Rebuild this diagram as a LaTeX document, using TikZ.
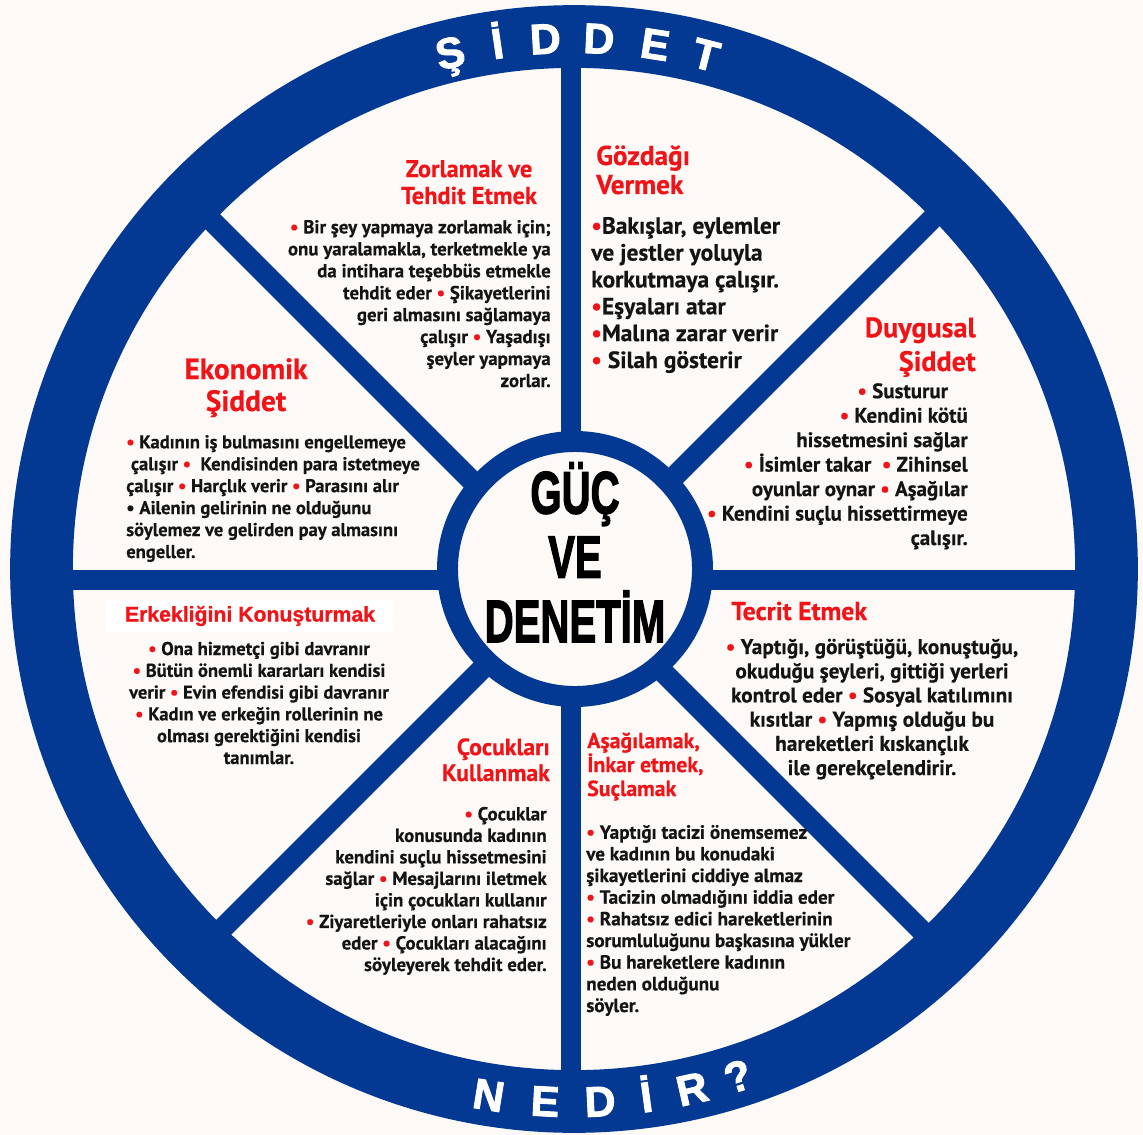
\documentclass[tikz,border=0pt]{standalone}
\usepackage{fontspec}
\usepackage{graphicx}
\setmainfont{PT Sans}[BoldFeatures={FakeBold=0.4}]
\newfontfamily\rimfont{Liberation Sans}[BoldFeatures={FakeBold=2}]
\newfontfamily\hubfont{Liberation Sans}[BoldFeatures={FakeBold=2.5}]
\newfontfamily\boxfont{Liberation Sans}[BoldFeatures={FakeBold=1}]
\usetikzlibrary{calc}
\definecolor{bg}{HTML}{FCF9F6}
\definecolor{wheel}{HTML}{033893}
\definecolor{tred}{HTML}{F01419}
\definecolor{ink}{HTML}{141414}
\newcommand{\bul}{{\color{tred}\textbullet}}
\newcommand{\sq}[1]{\scalebox{0.67}[1]{#1}}
\tikzset{
  rim/.style={draw=wheel, line width=44.6pt},
  spoke/.style={draw=wheel, line width=14.9pt},
  hubring/.style={draw=wheel, line width=14.9pt, fill=bg},
  fs/.style 2 args={font=\fontsize{#1}{#2}\selectfont\bfseries},
  body/.style={text=ink, inner sep=0pt, align=#1},
  ttl/.style={text=tred, inner sep=0pt, align=#1},
  rimtxt/.style={text=white, inner sep=0pt, anchor=base, font=\rimfont\fontsize{30.5}{32}\selectfont\bfseries},
  hubtxt/.style={text=black, inner sep=0pt, align=center, font=\hubfont\fontsize{42.6}{45.7}\selectfont\bfseries},
}

\begin{document}
\begin{tikzpicture}[x=0.025cm, y=-0.025cm]
  \coordinate (O) at (574,569);
  \coordinate (S) at (571,580);
  \coordinate (H) at (575,569);

  \fill[bg] (0,0) rectangle (1143,1135);
  \useasboundingbox (0,0) rectangle (1143,1135);

  % spokes, cut at the rim
  \begin{scope}
    \clip (O) circle (505);
    \foreach \a in {0,45,90,135}
      \draw[spoke] ($(S)+(\a:-600)$) -- ($(S)+(\a:600)$);
  \end{scope}
  \draw[rim] (O) circle (532.5);
  \draw[hubring] (H) circle (127.5);

  % rim lettering
  \foreach \ch/\a in {Ş/103.5, İ/98.3, D/93.1, D/87.3, E/81.2, T/75.6}
    \node[rimtxt, rotate=\a-90] at ({574+516*cos(\a)},{569-516*sin(\a)}) {\ch};
  \foreach \ch/\a in {N/260.8, E/266.9, D/272.8, İ/277.8, R/282.8, ?/287.9}
    \node[rimtxt, rotate=\a+90] at ({574+548*cos(\a)},{569-548*sin(\a)}) {\ch};

  \node[hubtxt, anchor=base] (hub) at (575,642) {\sq{GÜÇ}\\\sq{VE}\\\sq{DENETİM}};

  % Zorlamak ve Tehdit Etmek
  \node[ttl=center, fs={17.3}{19.1}, anchor=base] (zorT) at (469,204) {Zorlamak ve\\Tehdit Etmek};
  \node[body=right, fs={13.4}{15.6}, anchor=base east] (zorB) at (551,387)
    {\bul\ Bir şey yapmaya zorlamak için;\\onu yaralamakla, terketmekle ya\\da intihara teşebbüs etmekle\\tehdit eder \bul\ Şikayetlerini\\geri almasını sağlamaya\\çalışır \bul\ Yaşadışı\\şeyler yapmaya\\zorlar.};

  % Gözdağı Vermek
  \node[ttl=left, fs={19.4}{20.6}, anchor=base west] (gozT) at (596,194) {Gözdağı\\Vermek};
  \node[body=left, fs={16.7}{19.1}, anchor=base west] (gozB) at (591,368)
    {\bul Bakışlar, eylemler\\ve jestler yoluyla\\korkutmaya çalışır.\\\bul Eşyaları atar\\\bul Malına zarar verir\\\bul\ Silah gösterir};

  % Duygusal Şiddet
  \node[ttl=right, fs={20}{24}, anchor=base east] (duyT) at (976,371) {Duygusal\\Şiddet};
  \node[body=right, fs={14.9}{17.4}, anchor=base east] (duyB) at (968,545)
    {\bul\ Susturur\hspace*{14pt}\\\bul\ Kendini kötü\\hissetmesini sağlar\\\bul\ İsimler takar\ \ \bul\ Zihinsel\\oyunlar oynar \bul\ Aşağılar\\\bul\ Kendini suçlu hissettirmeye\\çalışır.};

  % Ekonomik Şiddet
  \node[ttl=center, fs={20.9}{22.7}, anchor=base] (ekoT) at (246,411) {Ekonomik\\Şiddet};
  \node[body=left, fs={13.2}{15.6}, anchor=base west] (ekoB) at (126,558)
    {\bul\ Kadının iş bulmasını engellemeye\\\ çalışır \bul\ \ Kendisinden para istetmeye\\çalışır \bul\ Harçlık verir \bul\ Parasını alır\\\textbullet\ Ailenin gelirinin ne olduğunu\\söylemez ve gelirden pay almasını\\engeller.};

  % Erkekliğini Konuşturmak
  \node[fill=white, text=tred, inner sep=0pt, minimum width=205.5pt, minimum height=22.7pt,
    font=\boxfont\fontsize{15.1}{18}\selectfont\bfseries] (erkT) at (250,616) {Erkekliğini Konuşturmak};
  \node[body=center, fs={13.2}{15.5}, anchor=base] (erkB) at (259,764)
    {\bul\ Ona hizmetçi gibi davranır\\\bul\ Bütün önemli kararları kendisi\\verir \bul\ Evin efendisi gibi davranır\\\bul\ Kadın ve erkeğin rollerinin ne\\olması gerektiğini kendisi\\tanımlar.};

  % Tecrit Etmek
  \node[ttl=left, fs={18.3}{19}, anchor=base west] (tecT) at (731,620) {Tecrit Etmek};
  \node[body=center, fs={15.1}{17.2}, anchor=base] (tecB) at (872,775)
    {\bul\ Yaptığı, görüştüğü, konuştuğu,\\okuduğu şeyleri, gittiği yerleri\\kontrol eder \bul\ Sosyal katılımını\\kısıtlar \bul\ Yapmış olduğu bu\\hareketleri kıskançlık\\ile gerekçelendirir.};

  % Çocukları Kullanmak
  \node[ttl=right, fs={16.8}{18.4}, anchor=base east] (cocT) at (550,781) {Çocukları\\Kullanmak};
  \node[body=right, fs={13.4}{15.3}, anchor=base east] (cocB) at (547,971)
    {\bul\ Çocuklar\\konusunda kadının\\kendini suçlu hissetmesini\\sağlar \bul\ Mesajlarını iletmek\\için çocukları kullanır\\\bul\ Ziyaretleriyle onları rahatsız\\eder \bul\ Çocukları alacağını\\söyleyerek tehdit eder.};

  % Aşağılamak, İnkar etmek, Suçlamak
  \node[ttl=left, fs={15.5}{17}, anchor=base west] (asaT) at (587,796) {Aşağılamak,\\İnkar etmek,\\Suçlamak};
  \node[body=left, fs={13.6}{15.4}, anchor=base west] (asaB) at (586,1012)
    {\bul\ Yaptığı tacizi önemsemez\\ve kadının bu konudaki\\şikayetlerini ciddiye almaz\\\bul\ Tacizin olmadığını iddia eder\\\bul\ Rahatsız edici hareketlerinin\\sorumluluğunu başkasına yükler\\\bul\ Bu hareketlere kadının\\neden olduğunu\\söyler.};
\end{tikzpicture}
\end{document}
